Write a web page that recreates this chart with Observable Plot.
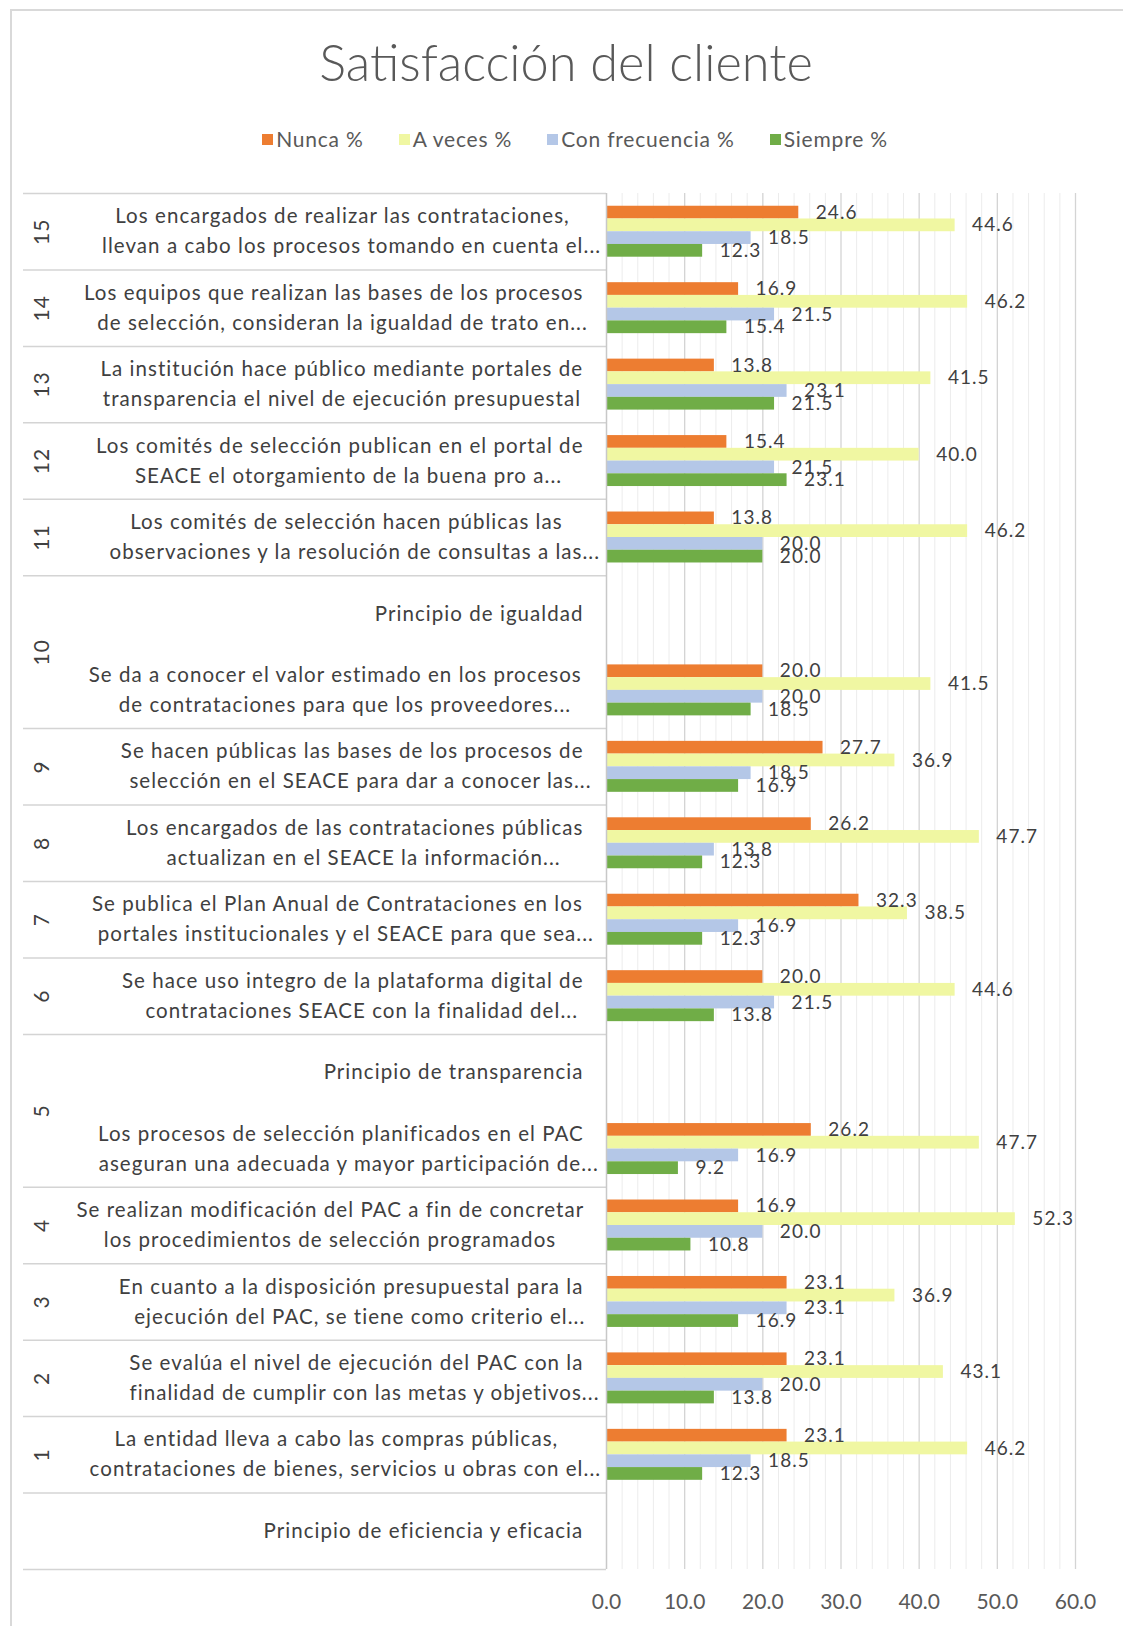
<!DOCTYPE html>
<html>
<head>
<meta charset="utf-8">
<script src="https://cdn.jsdelivr.net/npm/d3@7"></script>
<script src="https://cdn.jsdelivr.net/npm/@observablehq/plot@0.6"></script>
<style>
  html, body { margin: 0; padding: 0; background: #fff; overflow: hidden; }
  body { width: 1123px; height: 1626px; position: relative; font-family: Lato, "Open Sans", sans-serif; }
  #border { position: absolute; left: 10px; top: 9px; width: 1300px; height: 1800px;
            border-left: 2px solid #d9d9d9; border-top: 2px solid #d9d9d9; box-sizing: border-box; }
  #title { position: absolute; left: 0; top: 31px; width: 1132px; text-align: center;
           font-size: 50.5px; font-weight: 300; color: #595959; line-height: 62px; white-space: nowrap; }
  #legend { position: absolute; left: 0; top: 126px; width: 1150px; display: flex; justify-content: center;
            gap: 35px; font-size: 21px; letter-spacing: 0.8px; color: #595959; line-height: 26px; }
  #legend .item { display: flex; align-items: center; gap: 3px; }
  #legend .sw { width: 11px; height: 11px; display: inline-block; }
  #chart { position: absolute; left: 0; top: 170px; }
</style>
</head>
<body>
<div id="border"></div>
<div id="title">Satisfacción del cliente</div>
<div id="legend"></div>
<div id="chart"></div>
<script>
// ---- data (rows listed top to bottom) ----
const series = ["Nunca %", "A veces %", "Con frecuencia %", "Siempre %"];
const seriesColors = ["#ED7D31", "#F0F7A2", "#B4C7E7", "#70AD47"];

const rowLabels = [
  "Los encargados de realizar las contrataciones,\nllevan a cabo los procesos tomando en cuenta el...",
  "Los equipos que realizan las bases de los procesos\nde selección, consideran la igualdad de trato en...",
  "La institución hace público mediante portales de\ntransparencia el nivel de ejecución presupuestal",
  "Los comités de selección publican en el portal de\nSEACE el otorgamiento de la buena pro a...",
  "Los comités de selección hacen públicas las\nobservaciones y la resolución de consultas a las...",
  "Principio de igualdad",
  "Se da a conocer el valor estimado en los procesos\nde contrataciones para que los proveedores...",
  "Se hacen públicas las bases de los procesos de\nselección en el SEACE para dar a conocer las...",
  "Los encargados de las contrataciones públicas\nactualizan en el SEACE la información...",
  "Se publica el Plan Anual de Contrataciones en los\nportales institucionales y el SEACE para que sea...",
  "Se hace uso integro de la plataforma digital de\ncontrataciones SEACE con la finalidad del...",
  "Principio de transparencia",
  "Los procesos de selección planificados en el PAC\naseguran una adecuada y mayor participación de...",
  "Se realizan modificación del PAC a fin de concretar\nlos procedimientos de selección programados",
  "En cuanto a la disposición presupuestal para la\nejecución del PAC, se tiene como criterio el...",
  "Se evalúa el nivel de ejecución del PAC con la\nfinalidad de cumplir con las metas y objetivos...",
  "La entidad lleva a cabo las compras públicas,\ncontrataciones de bienes, servicios u obras con el...",
  "Principio de eficiencia y eficacia"
];
// outer category (number) of each row
const rowGroups = ["15","14","13","12","11","10","10","9","8","7","6","5","5","4","3","2","1",""];

const nunca   = [24.6, 16.9, 13.8, 15.4, 13.8, null, 20.0, 27.7, 26.2, 32.3, 20.0, null, 26.2, 16.9, 23.1, 23.1, 23.1, null];
const aVeces  = [44.6, 46.2, 41.5, 40.0, 46.2, null, 41.5, 36.9, 47.7, 38.5, 44.6, null, 47.7, 52.3, 36.9, 43.1, 46.2, null];
const conFrec = [18.5, 21.5, 23.1, 21.5, 20.0, null, 20.0, 18.5, 13.8, 16.9, 21.5, null, 16.9, 20.0, 23.1, 20.0, 18.5, null];
const siempre = [12.3, 15.4, 21.5, 23.1, 20.0, null, 18.5, 16.9, 12.3, 12.3, 13.8, null,  9.2, 10.8, 16.9, 13.8, 12.3, null];

const xTicks = [0, 10, 20, 30, 40, 50, 60];

// ---- layout ----
const W = 1123, marginLeft = 606, marginRight = 48, marginTop = 23, innerH = 1376, marginBottom = 57;
const innerW = W - marginLeft - marginRight;
const labelFont = "20.5px Lato", labelSpacing = 1.05, labelGap = 23, linePx = 30;

// ---- derived tables ----
const valuesBySeries = [nunca, aVeces, conFrec, siempre];
const nRows = rowLabels.length;
const rowPx = innerH / nRows;
const slots = series.length + 2; // one empty slot above and below the bar group
const bars = [];
valuesBySeries.forEach((vals, s) => vals.forEach((v, r) => {
  if (v != null) bars.push({ series: series[s], value: v, y1: r + (1 + s) / slots, y2: r + (2 + s) / slots });
}));

// text measurement (for Excel-like wrapped labels: lines centred in a right-aligned block)
const ctx = document.createElement("canvas").getContext("2d");
ctx.font = labelFont;
function textW(t) { return ctx.measureText(t).width + labelSpacing * t.length; }
const lineRows = [];
rowLabels.forEach((label, r) => {
  const lines = label.split("\n");
  const core = lines.map(l => textW(l.replace(/\.\.\.$/, "")));
  const block = Math.max(...core);
  lines.forEach((l, k) => lineRows.push({
    text: l,
    y: r + 0.5 + (k - (lines.length - 1) / 2) * linePx / rowPx,
    dx: -labelGap - block / 2 - core[k] / 2
  }));
});

// outer groups: span of consecutive rows with the same number
const groups = [];
rowGroups.forEach((g, r) => {
  const last = groups[groups.length - 1];
  if (last && last.name === g) last.end = r + 1;
  else groups.push({ name: g, start: r, end: r + 1 });
});
const boundaries = [0, ...groups.map(g => g.end)];

// legend
const legend = document.getElementById("legend");
series.forEach((s, i) => {
  const it = document.createElement("div");
  it.className = "item";
  it.innerHTML = `<span class="sw" style="background:${seriesColors[i]}"></span><span>${s}</span>`;
  legend.appendChild(it);
});

const minor = d3.range(2, 60, 2).filter(v => v % 10 !== 0);
const major = xTicks.filter(v => v !== 0);

const labelMarks = lineRows.map(d => Plot.text([d], { x: 0, y: "y", text: "text", dx: d.dx,
  textAnchor: "start", fontSize: 20.5, fill: "#404040" }));

const chart = Plot.plot({
  width: W,
  height: marginTop + innerH + marginBottom,
  marginLeft, marginRight, marginTop, marginBottom,
  style: { fontFamily: "Lato, 'Open Sans', sans-serif", color: "#595959", background: "transparent" },
  x: { domain: [0, 60], axis: null },
  y: { domain: [0, nRows], reverse: true, axis: null },
  color: { domain: series, range: seriesColors },
  marks: [
    Plot.ruleX(minor, { stroke: "#ECECEC", strokeWidth: 1 }),
    Plot.ruleX(major, { stroke: "#D4D4D4", strokeWidth: 1.3 }),
    Plot.ruleY(boundaries, { stroke: "#D4D4D4", strokeWidth: 1.5, insetLeft: -(marginLeft - 23), insetRight: innerW }),
    Plot.rectX(bars, { x1: 0, x2: "value", y1: "y1", y2: "y2", fill: "series" }),
    Plot.ruleX([0], { stroke: "#C8C8C8", strokeWidth: 1.5 }),
    Plot.text(bars, { x: "value", y: d => (d.y1 + d.y2) / 2, text: d => d3.format(".1f")(d.value),
      dx: 17, textAnchor: "start", fontSize: 19, fill: "#404040", ariaLabel: "data labels" }),
    Plot.text(groups.filter(g => g.name !== ""), { x: 0, y: g => (g.start + g.end) / 2, text: "name",
      dx: -(marginLeft - 42), rotate: -90, fontSize: 21, fill: "#404040", ariaLabel: "outer labels" }),
    Plot.axisX(xTicks, { tickFormat: d3.format(".1f"), tickSize: 0, tickPadding: 25, fontSize: 21,
      fill: "#595959", label: null }),
    ...labelMarks
  ]
});
// wider letter spacing for the category labels (as in the reference rendering)
chart.querySelectorAll('g[aria-label="text"]').forEach(g => g.style.letterSpacing = labelSpacing + "px");
chart.querySelectorAll('g[aria-label="outer labels"]').forEach(g => g.style.letterSpacing = "0.5px");
document.getElementById("chart").appendChild(chart);
</script>
</body>
</html>
